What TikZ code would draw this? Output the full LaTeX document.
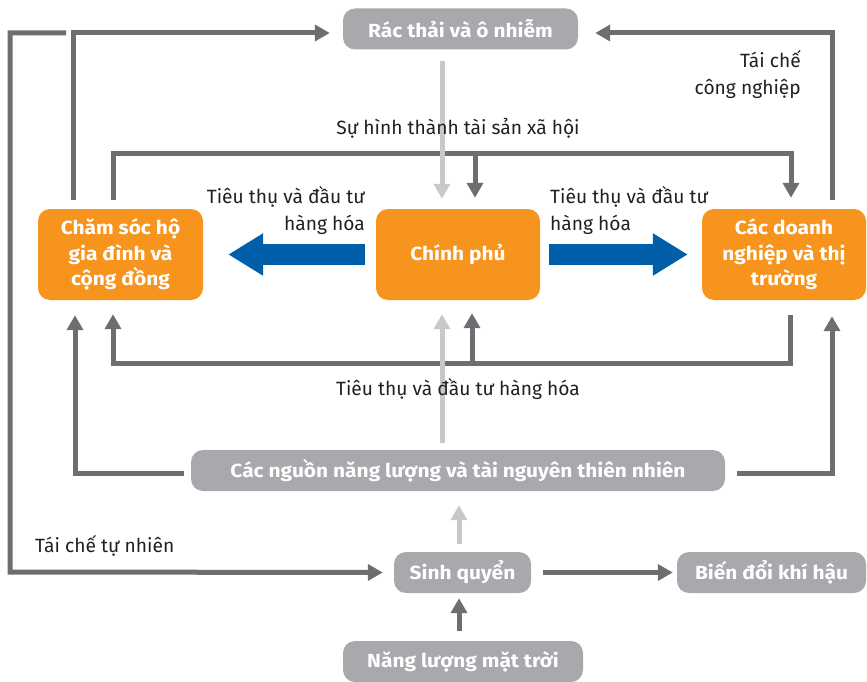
\documentclass[tikz,border=0pt]{standalone}
\usepackage{fontspec}
\setmainfont{Fira Sans}
\newfontfamily\boxfont{Fira Sans}[FakeStretch=1.1]
\usetikzlibrary{arrows.meta,calc}
\definecolor{dg}{HTML}{6D6E71}
\definecolor{lg}{HTML}{C7C8CA}
\definecolor{bx}{HTML}{A7A9AC}
\definecolor{org}{HTML}{F7941D}
\definecolor{blu}{HTML}{005FA8}
\definecolor{txt}{HTML}{231F20}
\tikzset{
  gbox/.style={fill=bx, rounded corners=12pt, text=white, inner sep=0pt,
    font=\boxfont\bfseries\fontsize{19}{22}\selectfont, minimum height=41pt},
  obox/.style={fill=org, rounded corners=12pt, text=white, inner sep=0pt,
    font=\boxfont\bfseries\fontsize{19}{25.5}\selectfont, minimum width=165pt,
    minimum height=91pt, align=center},
  ln/.style={draw=dg, line width=5pt},
  lln/.style={draw=lg, line width=5pt},
  tip/.style={-{Triangle[length=15pt,width=16pt]}},
  lbl/.style={text=txt, font=\fontsize{19.2}{27}\selectfont, inner sep=0pt},
  bigarrow/.style={draw=blu, line width=21pt, -{Triangle[length=35pt,width=40pt]}}
}
\begin{document}
\begin{tikzpicture}[x=1pt,y=-1pt]
\useasboundingbox (0,0) rectangle (867,682);
% nodes
\node[gbox, minimum width=235pt] (rac) at (460.5,29) {Rác thải và ô nhiễm};
\node[obox] (cs) at (120.5,254.5) {Chăm sóc hộ\\gia đình và\\cộng đồng};
\node[obox, minimum width=164pt] (cp) at (458,254.5) {Chính phủ};
\node[obox, minimum width=164pt] (dn) at (784,254.5) {Các doanh\\nghiệp và thị\\trường};
\node[gbox, minimum width=534pt] (ng) at (458,470.5) {Các nguồn năng lượng và tài nguyên thiên nhiên};
\node[gbox, minimum width=137pt] (sq) at (462.5,572.5) {Sinh quyển};
\node[gbox, minimum width=189pt] (bd) at (771.5,572.5) {Biến đổi khí hậu};
\node[gbox, minimum width=240pt] (nl) at (463,661.5) {Năng lượng mặt trời};
% connectors
\coordinate (lstart) at (66,33);
\draw[ln,tip,shorten >=11pt] (lstart) -| (10,572) -- (sq.west);
\draw[ln,tip,shorten <=9pt,shorten >=13pt] (cs.north -| 73,0) |- ([yshift=-4pt]rac.west);
\draw[ln,tip,shorten <=9pt,shorten >=17pt] (dn.north -| 832,0) |- ([yshift=-4pt]rac.east);
\draw[ln,tip,shorten <=9pt,shorten >=11pt] (cs.north -| 113,0) -- (113,153) -| (dn.north -| 791,0);
\draw[ln,tip,shorten >=11pt] (475,153) -- (cp.north -| 475,0);
\draw[lln,tip,shorten <=11pt,shorten >=10pt] (rac.south -| 442,0) -- (cp.north -| 442,0);
\draw[ln,tip,shorten <=15pt,shorten >=14pt] (dn.south -| 790,0) |- (113,363) -- (cs.south -| 113,0);
\draw[ln,tip,shorten >=13pt] (472,363) -- (cp.south -| 472,0);
\draw[lln,tip,shorten <=7pt,shorten >=14pt] (ng.north -| 442,0) -- (cp.south -| 442,0);
\draw[ln,tip,shorten <=7pt,shorten >=15pt] ([yshift=-3pt]ng.west) -| (cs.south -| 75,0);
\draw[ln,tip,shorten <=12pt,shorten >=16pt] ([yshift=-3pt]ng.east) -| (dn.south -| 832,0);
\draw[lln,tip,shorten <=8pt,shorten >=14pt] (sq.north -| 459,0) -- (ng.south -| 459,0);
\draw[ln,tip,shorten <=10pt,shorten >=5pt] (nl.north -| 459,0) -- (sq.south -| 459,0);
\draw[ln,tip,shorten <=12pt,shorten >=4pt] (sq.east) -- (bd.west);
\draw[bigarrow,shorten <=11pt,shorten >=25pt] (cp.west) -- (cs.east);
\draw[bigarrow,shorten <=9pt,shorten >=14pt] (cp.east) -- (dn.west);
% labels (drawn over the lines)
\node[lbl, anchor=base] (l1) at (458,135) {Sự hình thành tài sản xã hội};
\node[lbl, anchor=north east, align=right] (l2) at (801,50) {Tái chế\\công nghiệp};
\node[lbl, anchor=north east, align=right] (l3) at (365,186) {Tiêu thụ và đầu tư\\hàng hóa};
\node[lbl, anchor=north west, align=left] (l4) at (550,186) {Tiêu thụ và đầu tư\\hàng hóa};
\node[lbl, anchor=base] (l5) at (458,395) {Tiêu thụ và đầu tư hàng hóa};
\node[lbl, anchor=base west] (l6) at (35,552) {Tái chế tự nhiên};
\end{tikzpicture}
\end{document}
